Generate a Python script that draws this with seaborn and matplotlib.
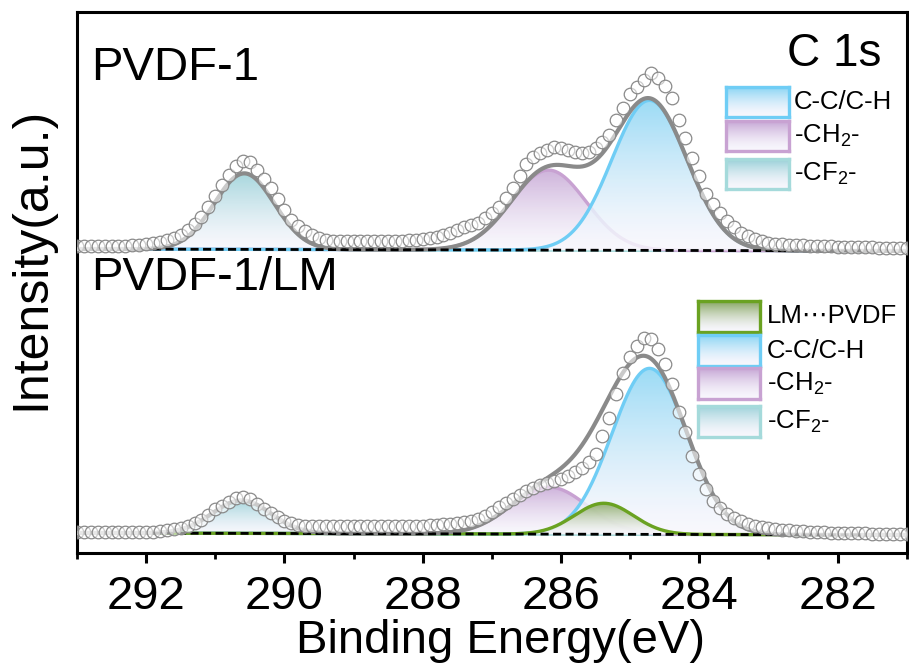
import numpy as np
import matplotlib
matplotlib.use("Agg")
import matplotlib.pyplot as plt
from matplotlib.colors import to_rgb
from matplotlib.ticker import MultipleLocator
import seaborn as sns

# ---------------- data ----------------
# measured binding-energy grid (eV), 0.1 eV steps from 293.0 down to 281.0
energy = np.round(np.arange(293.0, 280.95, -0.1), 1)

# C 1s raw intensity above the background (a.u.)
pvdf1_counts = [
    3, 3, 3, 3, 3, 3, 3, 3, 4, 4,
    5, 6, 7, 9, 11, 14, 19, 25, 32, 42,
    53, 64, 74, 83, 88, 87, 79, 70, 61, 50,
    39, 30, 24, 19, 15, 12, 10, 9, 9, 9,
    9, 9, 9, 9, 9, 9, 9, 9, 10, 10,
    11, 12, 13, 15, 17, 20, 23, 25, 27, 32,
    37, 43, 52, 62, 74, 86, 93, 97, 100, 103,
    102, 100, 98, 97, 98, 102, 108, 115, 130, 142,
    156, 163, 170, 177, 172, 164, 152, 130, 112, 92,
    74, 57, 47, 38, 30, 24, 18, 15, 12, 10,
    8, 7, 7, 6, 6, 6, 5, 5, 5, 5,
    4, 4, 4, 4, 4, 4, 3, 3, 3, 3,
    3,
]
pvdf1_lm_counts = [
    1, 1, 1, 1, 1, 1, 1, 1, 1, 1,
    1, 1, 2, 3, 4, 5, 7, 10, 13, 18,
    24, 27, 31, 35, 36, 34, 29, 24, 20, 16,
    12, 10, 9, 8, 8, 8, 8, 8, 8, 8,
    8, 8, 8, 8, 8, 8, 8, 8, 8, 8,
    8, 9, 9, 10, 10, 11, 12, 13, 15, 18,
    22, 27, 31, 35, 39, 43, 46, 49, 51, 53,
    55, 58, 62, 66, 72, 80, 98, 116, 140, 161,
    177, 188, 196, 195, 185, 170, 150, 122, 102, 78,
    60, 45, 34, 27, 21, 17, 14, 11, 9, 8,
    7, 6, 5, 5, 4, 4, 3, 3, 3, 2,
    2, 2, 2, 2, 2, 1, 1, 1, 1, 1,
    1,
]

# linear background level at 293 eV and 281 eV (stacked display units)
pvdf1_background = [304, 302]
pvdf1_lm_background = [20, 18]

# fitted components: centre (eV), height (a.u.), FWHM (eV)
pvdf1_peaks = ["C-C/C-H", "-CH2-", "-CF2-"]
pvdf1_centers = [284.72, 286.18, 290.58]
pvdf1_heights = [150, 80, 76]
pvdf1_fwhm = [1.28, 1.28, 1.02]

lm_peaks = ["LM\u22efPVDF", "C-C/C-H", "-CH2-", "-CF2-"]
lm_centers = [285.38, 284.72, 286.17, 290.62]
lm_heights = [31, 166, 47, 33]
lm_fwhm = [1.0, 1.28, 1.3, 1.0]

xtick_values = [292, 290, 288, 286, 284, 282]
xtick_labels = ["292", "290", "288", "286", "284", "282"]

# ---------------- styling ----------------
line_colors = {"C-C/C-H": "#6fcdf5", "-CH2-": "#c8a2d2",
               "-CF2-": "#a5dadb", "LM\u22efPVDF": "#6aa221"}
fill_colors = {"C-C/C-H": "#8ad5f4", "-CH2-": "#c6a6d5",
               "-CF2-": "#98d0d8", "LM\u22efPVDF": "#86a660"}
pretty = {"C-C/C-H": "C-C/C-H",
          "-CH2-": "-CH$_{\\mathregular{2}}$-",
          "-CF2-": "-CF$_{\\mathregular{2}}$-",
          "LM\u22efPVDF": "LM\u22efPVDF"}
FADE = "#f8f7fd"

sns.set_theme(style="white")
plt.rcParams["font.family"] = ["Liberation Sans", "DejaVu Sans"]
plt.rcParams["mathtext.fontset"] = "custom"
plt.rcParams["mathtext.rm"] = "Liberation Sans"
plt.rcParams["mathtext.it"] = "Liberation Sans:italic"
plt.rcParams["text.color"] = "black"
plt.rcParams["axes.labelcolor"] = "black"
plt.rcParams["xtick.color"] = "black"

W, H = 909, 666
fig = plt.figure(figsize=(W / 100, H / 100), dpi=100)
ax = fig.add_axes([0.0847, 0.1697, 0.9128, 0.8123])


def gradient_rgba(top_hex, alpha=0.85, power=1.4, n=256):
    top = np.array(to_rgb(top_hex))
    bottom = np.array(to_rgb(FADE))
    t = np.linspace(0, 1, n)[:, None] ** power
    rgb = bottom + (top - bottom) * t
    rgba = np.concatenate([rgb, np.full((n, 1), alpha)], axis=1)
    return rgba[:, None, :]


def gaussian(x, c, h, fwhm):
    return h * np.exp(-4 * np.log(2) * ((x - c) / fwhm) ** 2)


fine = np.linspace(293.0, 281.0, 1201)


def background(x, levels):
    return np.interp(x, [281.0, 293.0], [levels[1], levels[0]])


def draw_spectrum(ax, counts, bg_levels, peaks, centers, heights, fwhms, draw_order):
    base = background(fine, bg_levels)
    comps = {p: gaussian(fine, c, h, f)
             for p, c, h, f in zip(peaks, centers, heights, fwhms)}
    z = 2.0
    for name in draw_order:
        comp = comps[name]
        poly = ax.fill_between(fine, base, base + comp, facecolor="none",
                               edgecolor="none", zorder=z)
        im = ax.imshow(gradient_rgba(fill_colors[name]),
                       extent=(293.0, 281.0, base.min(), (base + comp).max()),
                       origin="lower", aspect="auto", zorder=z,
                       interpolation="bilinear")
        im.set_clip_path(poly.get_paths()[0], transform=ax.transData)
        sns.lineplot(x=fine, y=base + comp, color=line_colors[name],
                     linewidth=2.4, ax=ax, zorder=z + 0.1,
                     sort=False, estimator=None)
        z += 0.2
    envelope = base + sum(comps.values())
    sns.lineplot(x=fine, y=envelope, color="#8a8a8a", linewidth=3.0,
                 ax=ax, zorder=5, sort=False, estimator=None)
    bx = np.array([291.9, 281.6])
    ax.plot(bx, background(bx, bg_levels), color="black", linewidth=2.0,
            linestyle=(0, (2.9, 1.6)), zorder=5.5)
    y = np.asarray(counts, float) + background(energy, bg_levels)
    sns.scatterplot(x=energy, y=y, ax=ax, marker="o", s=82, zorder=6,
                    color="white", edgecolor="#8a8a8a", linewidth=0.9)
    pts = ax.collections[-1]
    pts.set_facecolor((1, 1, 1, 0.55))
    pts.set_edgecolor("#8a8a8a")


draw_spectrum(ax, pvdf1_counts, pvdf1_background, pvdf1_peaks,
              pvdf1_centers, pvdf1_heights, pvdf1_fwhm,
              ["-CF2-", "-CH2-", "C-C/C-H"])
draw_spectrum(ax, pvdf1_lm_counts, pvdf1_lm_background, lm_peaks,
              lm_centers, lm_heights, lm_fwhm,
              ["-CF2-", "-CH2-", "C-C/C-H", "LM\u22efPVDF"])

ax.set_xlim(293.0, 281.0)
ax.set_ylim(0, 541)
ax.set_xticks(xtick_values)
ax.set_xticklabels(xtick_labels)
ax.xaxis.set_minor_locator(MultipleLocator(1))
ax.set_yticks([])
ax.tick_params(axis="x", which="major", direction="out", length=7.5,
               width=2.2, labelsize=34, pad=8, bottom=True,
               color="black", labelcolor="black")
ax.tick_params(axis="x", which="minor", direction="out", length=4.5,
               width=2.0, bottom=True, color="black")
for sp in ax.spines.values():
    sp.set_color("black")
    sp.set_linewidth(2.2)

ax.set_xlabel("Binding Energy(eV)", fontsize=34, color="black")
ax.xaxis.set_label_coords(0.511, -0.122)
ax.set_ylabel("Intensity(a.u.)", fontsize=36, color="black")
ax.yaxis.set_label_coords(-0.027, 0.545)

ax.text(0.017, 0.874, "PVDF-1", transform=ax.transAxes, fontsize=34,
        ha="left", va="baseline", color="black")
ax.text(0.970, 0.900, "C 1s", transform=ax.transAxes, fontsize=33,
        ha="right", va="baseline", color="black")
ax.text(0.017, 0.486, "PVDF-1/LM", transform=ax.transAxes, fontsize=34,
        ha="left", va="baseline", color="black")


def legend_block(names, left, right, tops, height, label_x):
    for name, top in zip(names, tops):
        lax = fig.add_axes([left / W, 1 - (top + height) / H,
                            (right - left) / W, height / H])
        lax.imshow(gradient_rgba(fill_colors[name], alpha=1.0, power=1.6),
                   extent=(0, 1, 0, 1), origin="lower", aspect="auto")
        lax.set_xticks([])
        lax.set_yticks([])
        for sp in lax.spines.values():
            sp.set_color(line_colors[name])
            sp.set_linewidth(2.4)
        fig.text(label_x / W, 1 - (top + height / 2) / H, pretty[name],
                 fontsize=18.5, ha="left", va="center", color="black")


legend_block(pvdf1_peaks, 726, 789, [87, 121, 159], 30, 794)
legend_block(lm_peaks, 698, 760, [301, 335, 368, 406], 31, 767)

fig.savefig("out.png", dpi=100)
